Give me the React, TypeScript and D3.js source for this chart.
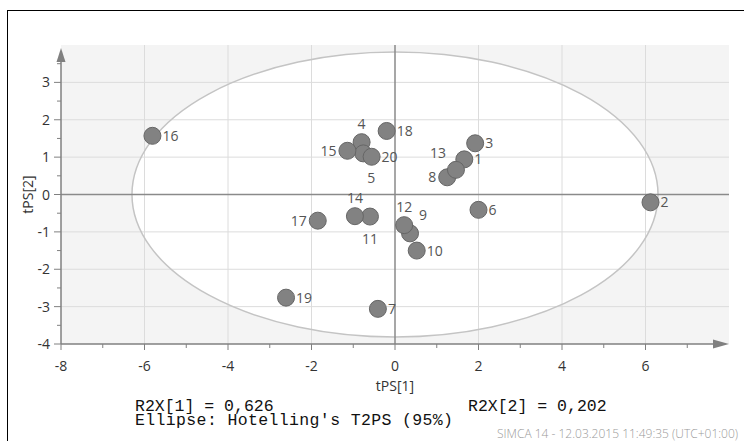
import React from 'react';
import * as d3 from 'd3';

const ids = [1, 2, 3, 4, 5, 6, 7, 8, 9, 10, 11, 12, 13, 14, 15, 16, 17, 18, 19, 20];
const t1 = [1.66, 6.12, 1.92, -0.80, -0.76, 2.0, -0.41, 1.25, 0.36, 0.52, -0.60, 0.22, 1.46, -0.96, -1.14, -5.81, -1.85, -0.20, -2.61, -0.56];
const t2 = [0.94, -0.21, 1.37, 1.40, 1.10, -0.41, -3.06, 0.46, -1.04, -1.50, -0.59, -0.82, 0.66, -0.58, 1.17, 1.57, -0.70, 1.70, -2.76, 1.01];

const xTickLabels = [-8, -6, -4, -2, 0, 2, 4, 6];
const yTickLabels = [-4, -3, -2, -1, 0, 1, 2, 3];
const ellipseAxes = [6.3, 3.81];
const r2x = ['0,626', '0,202'];

// where each label sits relative to its marker
const labelSide: Record<number, string> = {
  1: 'r', 2: 'r', 3: 'r', 4: 't', 5: 'br', 6: 'r', 7: 'r', 8: 'l', 9: 'tr', 10: 'r',
  11: 'b', 12: 't', 13: 'tl', 14: 't', 15: 'l', 16: 'r', 17: 'l', 18: 'r', 19: 'r', 20: 'r',
};

const W = 744;
const H = 441;

const App = () => {
  const x = d3.scaleLinear().domain([-8, 8]).range([61, 729]);
  const y = d3.scaleLinear().domain([-4, 4]).range([344, 45]);

  const x0 = x(-8), x1 = x(8), yTop = y(4), yBot = y(-4);
  const font = "'Open Sans', 'Noto Sans', sans-serif";

  const vGrid = d3.range(-6, 8, 2).filter(v => v !== 0);
  const hGrid = d3.range(-3, 4, 1).filter(v => v !== 0);
  const xMinor = d3.range(-7, 8, 2);
  const yMinor = d3.range(-3.5, 4, 1);

  const off = (s: string) => {
    switch (s) {
      case 'l': return { dx: -11, dy: 5, anchor: 'end' };
      case 't': return { dx: 0, dy: -13, anchor: 'middle' };
      case 'b': return { dx: 0, dy: 27, anchor: 'middle' };
      case 'br': return { dx: 8, dy: 30, anchor: 'middle' };
      case 'tr': return { dx: 9, dy: -13, anchor: 'start' };
      case 'tl': return { dx: -10, dy: -12, anchor: 'end' };
      default: return { dx: 10, dy: 5, anchor: 'start' };
    }
  };

  const pts = ids.map((id, i) => ({ id, cx: x(t1[i]), cy: y(t2[i]) }));

  return (
    <svg width={W} height={H} style={{ position: 'absolute', left: 0, top: 0, background: '#fff' }}>
      <rect x={7.5} y={10.5} width={W + 10} height={H + 10} fill="#fff" stroke="#000" strokeWidth={1} />

      <rect x={x0} y={yTop} width={x1 - x0} height={yBot - yTop} fill="#f4f4f4" />
      <ellipse cx={x(0)} cy={y(0)} rx={x(ellipseAxes[0]) - x(0)} ry={y(0) - y(ellipseAxes[1])} fill="#fff" />

      {vGrid.map(v => (
        <line key={'vg' + v} x1={x(v)} x2={x(v)} y1={yTop} y2={yBot} stroke="#dcdcdc" strokeWidth={1} />
      ))}
      {hGrid.map(v => (
        <line key={'hg' + v} x1={x0} x2={x1} y1={y(v)} y2={y(v)} stroke="#dcdcdc" strokeWidth={1} />
      ))}

      <ellipse cx={x(0)} cy={y(0)} rx={x(ellipseAxes[0]) - x(0)} ry={y(0) - y(ellipseAxes[1])}
        fill="none" stroke="#c4c4c4" strokeWidth={1.5} />

      <line x1={x(0)} x2={x(0)} y1={yTop} y2={yBot} stroke="#8a8a8a" strokeWidth={1.5} />
      <line x1={x0} x2={x1} y1={y(0)} y2={y(0)} stroke="#8a8a8a" strokeWidth={1.5} />

      {/* axes */}
      <line x1={x0} x2={x0} y1={yTop + 10} y2={yBot} stroke="#808080" strokeWidth={1.5} />
      <line x1={x0} x2={x1 - 12} y1={yBot} y2={yBot} stroke="#808080" strokeWidth={1.5} />
      <path d={`M${x0},${yTop + 3} L${x0 - 4.5},${yTop + 17} L${x0 + 4.5},${yTop + 17} Z`} fill="#808080" />
      <path d={`M${x1},${yBot} L${x1 - 16},${yBot - 4.5} L${x1 - 16},${yBot + 4.5} Z`} fill="#808080" />

      {xTickLabels.map(v => (
        <g key={'xt' + v}>
          <line x1={x(v)} x2={x(v)} y1={yBot} y2={yBot + 6} stroke="#808080" />
          <text x={x(v)} y={yBot + 27} textAnchor="middle" fontFamily={font} fontSize={14} fill="#333">{v}</text>
        </g>
      ))}
      {xMinor.map(v => (
        <line key={'xm' + v} x1={x(v)} x2={x(v)} y1={yBot} y2={yBot + 4} stroke="#808080" />
      ))}
      {yTickLabels.map(v => (
        <g key={'yt' + v}>
          <line x1={x0 - 7} x2={x0} y1={y(v)} y2={y(v)} stroke="#808080" />
          <text x={x0 - 11} y={y(v) + 5} textAnchor="end" fontFamily={font} fontSize={14} fill="#333">{v}</text>
        </g>
      ))}
      {yMinor.map(v => (
        <line key={'ym' + v} x1={x0 - 4} x2={x0} y1={y(v)} y2={y(v)} stroke="#808080" />
      ))}

      <text x={x(0)} y={391} textAnchor="middle" fontFamily={font} fontSize={14} fill="#333">tPS[1]</text>
      <text transform={`translate(33,${y(0)}) rotate(-90)`} textAnchor="middle" fontFamily={font} fontSize={14} fill="#333">tPS[2]</text>

      {pts.map(p => (
        <circle key={'c' + p.id} cx={p.cx} cy={p.cy} r={8.5} fill="#828282" stroke="#666" strokeWidth={1} />
      ))}
      {pts.map(p => {
        const o = off(labelSide[p.id]);
        return (
          <text key={'l' + p.id} x={p.cx + o.dx} y={p.cy + o.dy} textAnchor={o.anchor}
            fontFamily={font} fontSize={14} fill="#555">{p.id}</text>
        );
      })}

      <g fontFamily="'Liberation Mono', 'DejaVu Sans Mono', monospace" fontSize={16.5} fill="#111">
        <text x={135} y={411}>{`R2X[1] = ${r2x[0]}`}</text>
        <text x={468} y={411}>{`R2X[2] = ${r2x[1]}`}</text>
        <text x={135} y={425} textLength={318} lengthAdjust="spacing">Ellipse: Hotelling's T2PS (95%)</text>
      </g>
      <text x={497} y={438} fontFamily={font} fontSize={12} fontWeight={300} fill="#9a9a9a">SIMCA 14 - 12.03.2015 11:49:35 (UTC+01:00)</text>
    </svg>
  );
};

export default App;
